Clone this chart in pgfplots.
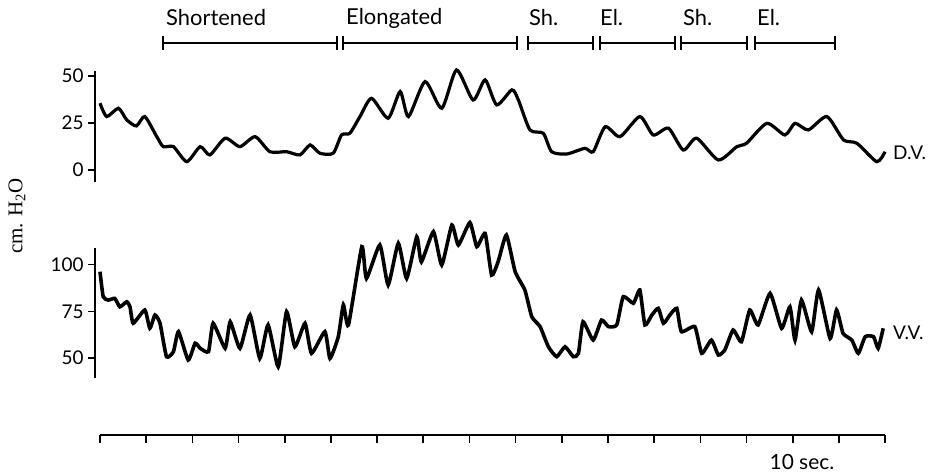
\documentclass[border=0pt]{standalone}
\usepackage{pgfplots}
\pgfplotsset{compat=1.18}
\usepackage{fontspec}
\setmainfont{Lato}
\newfontfamily\serifface{Liberation Serif}
\begin{document}
\begin{tikzpicture}[x=1bp,y=1bp]
\useasboundingbox (0,0) rectangle (935,474);
% ---------- D.V. ----------
\begin{axis}[
 at={(95bp,292bp)}, anchor=south west,
 x=46.18bp, y=1.88bp,
 xmin=-0.108, xmax=17.3, ymin=-6.4, ymax=52.7,
 axis x line=none, axis y line*=left,
 ytick={0,25,50}, xtick=\empty,
 tick align=outside, major tick length=7bp,
 every tick/.style={black, line width=1.6bp},
 axis line style={line width=1.8bp, -},
 yticklabel style={font=\fontsize{19}{19}\selectfont, xshift=-1bp},
 /pgf/number format/assume math mode=true,
 clip=false,
]
\addplot[black, line width=3.2bp, smooth, tension=0.4] coordinates {
(0,35.5)(0.145,28.4)(0.40,32.8)(0.58,26.6)(0.79,23.4)(0.97,28.4)(1.23,17.7)(1.37,12.4)(1.59,12.4)(1.88,4.4)(2.17,12.4)(2.38,8.0)(2.71,16.9)(3.03,12.4)(3.36,17.7)(3.68,9.7)(4.04,9.7)(4.33,8.0)(4.55,13.3)(4.76,8.9)(5.05,8.9)(5.23,18.6)(5.41,19.5)(5.63,28.4)(5.88,38.1)(6.24,27.5)(6.50,41.7)(6.68,28.4)(7.04,47.0)(7.40,32.8)(7.72,53.2)(8.08,37.2)(8.34,47.9)(8.59,34.6)(8.92,42.6)(9.06,37.2)(9.31,21.3)(9.60,19.5)(9.78,9.7)(10.11,8.5)(10.50,11.5)(10.68,9.7)(10.94,23.0)(11.26,17.7)(11.69,28.4)(11.98,18.6)(12.31,22.2)(12.63,10.6)(12.92,16.9)(13.39,5.3)(13.79,12.4)(14.00,14.2)(14.44,24.8)(14.83,18.6)(15.05,24.8)(15.34,21.3)(15.74,28.4)(16.10,16.0)(16.39,14.2)(16.82,4.4)(17.0,9.7)
};
\end{axis}
% ---------- V.V. ----------
\begin{axis}[
 at={(95bp,96bp)}, anchor=south west,
 x=46.18bp, y=1.868bp,
 xmin=-0.108, xmax=17.3, ymin=39.3, ymax=109,
 axis x line=none, axis y line*=left,
 ytick={50,75,100}, xtick=\empty,
 tick align=outside, major tick length=7bp,
 every tick/.style={black, line width=1.6bp},
 axis line style={line width=1.8bp, -},
 yticklabel style={font=\fontsize{19}{19}\selectfont, xshift=-1bp},
 /pgf/number format/assume math mode=true,
 clip=false,
]
\addplot[black, line width=3.6bp, smooth, tension=0.3] coordinates {
(0,96.2)(0.07,82.8)(0.18,81.0)(0.32,81.9)(0.43,77.4)(0.58,80.1)(0.65,77.4)(0.72,68.6)(0.97,75.7)(1.08,65.9)(1.19,73.0)(1.30,68.6)(1.44,50.7)(1.59,53.4)(1.70,64.1)(1.91,48.9)(2.06,57.9)(2.17,55.2)(2.35,53.4)(2.45,68.6)(2.71,55.2)(2.82,69.4)(3.03,55.2)(3.25,73.0)(3.46,49.8)(3.64,67.7)(3.86,45.3)(4.04,74.8)(4.22,56.0)(4.44,68.6)(4.58,52.5)(4.87,64.1)(4.98,49.8)(5.16,61.4)(5.27,78.4)(5.38,67.7)(5.67,109.6)(5.77,92.6)(6.06,110.5)(6.24,89.1)(6.46,111.4)(6.64,92.6)(6.86,114.9)(6.96,101.5)(7.22,117.6)(7.40,99.8)(7.62,121.2)(7.76,110.5)(8.01,122.5)(8.16,109.6)(8.34,116.7)(8.48,94.4)(8.62,101.5)(8.80,115.8)(8.99,96.2)(9.20,86.4)(9.35,72.1)(9.53,66.8)(9.71,56.0)(9.89,50.7)(10.07,56.0)(10.25,50.7)(10.36,52.5)(10.46,69.4)(10.68,59.6)(10.86,70.3)(11.01,66.8)(11.19,67.7)(11.33,82.8)(11.55,79.3)(11.69,86.4)(11.80,67.7)(11.95,73.0)(12.09,76.6)(12.20,68.6)(12.34,73.0)(12.49,76.6)(12.59,64.1)(12.88,66.8)(13.03,52.5)(13.24,59.6)(13.39,51.6)(13.53,54.3)(13.71,65.0)(13.89,58.7)(14.07,75.7)(14.25,67.7)(14.51,84.6)(14.76,65.9)(14.94,77.4)(15.05,59.6)(15.19,81.0)(15.41,64.1)(15.56,86.4)(15.81,60.5)(15.95,75.7)(16.09,63.2)(16.28,59.6)(16.42,52.5)(16.57,61.4)(16.75,61.4)(16.85,55.2)(16.96,65.9)
};
\end{axis}
% ---------- time axis ----------
\begin{axis}[
 at={(100bp,39bp)}, anchor=south west,
 x=46.18bp, y=10bp,
 xmin=0, xmax=17, ymin=0, ymax=1,
 axis y line=none, axis x line*=bottom,
 xtick={0,1,...,17}, xticklabels={}, ytick=\empty,
 tick align=outside, major tick length=8bp,
 every tick/.style={black, line width=1.6bp},
 axis line style={line width=1.8bp, -},
 clip=false,
]
\addplot[draw=none] coordinates {(0,0)};
\node[font=\fontsize{21}{21}\selectfont] at (axis cs:15.2,-2.7) {10 sec.};
\end{axis}
% ---------- annotations ----------
\begin{scope}[line width=1.7bp]
\foreach \a/\b in {163/337,343/517,528/593,600/675,681/747,755/835}{
  \draw (\a,431) -- (\b,431);
  \draw (\a,424) -- (\a,438);
  \draw (\b,424) -- (\b,438);
}
\end{scope}
\begin{scope}[every node/.style={font=\fontsize{22}{22}\selectfont, anchor=west, inner sep=0pt}]
\node at (166,456) {Shortened};
\node at (346,456) {Elongated};
\node at (529,456) {Sh.};
\node at (600,456) {El.};
\node at (683,456) {Sh.};
\node at (757,456) {El.};
\end{scope}
\node[font=\fontsize{19}{19}\selectfont, anchor=west, inner sep=0pt] at (893,321) {D.V.};
\node[font=\fontsize{19}{19}\selectfont, anchor=west, inner sep=0pt] at (893,141) {V.V.};
\node[font=\serifface\fontsize{21}{21}\selectfont, rotate=90] at (17,258) {cm. H\textsubscript{2}O};
\end{tikzpicture}
\end{document}
